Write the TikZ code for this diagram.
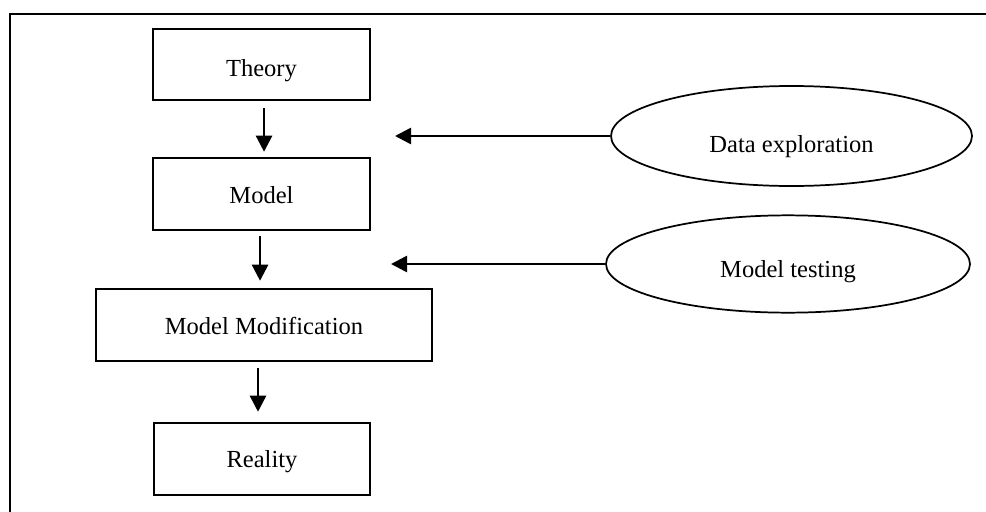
\documentclass[tikz,border=0pt]{standalone}
\usepackage{fontspec}
\setmainfont{Liberation Serif}
\usetikzlibrary{shapes.geometric,arrows.meta}

% lower a label inside its node without changing the node's size
\newcommand{\lowerby}[2]{\raisebox{-#1}[\height][\depth]{#2}}

\tikzset{
  stagebox/.style={draw, line width=1.9pt, rectangle, inner sep=0pt,
    font=\fontsize{18.4pt}{22pt}\selectfont},
  sourceoval/.style={draw, line width=1.3pt, ellipse, inner sep=0pt,
    font=\fontsize{18.4pt}{22pt}\selectfont},
  flowarrow/.style={line width=1.9pt, -{Triangle[length=12pt,width=12pt]}},
  frameline/.style={line width=1.6pt}
}

\begin{document}
\begin{tikzpicture}[x=0.75pt, y=-0.75pt]
  \useasboundingbox (0,0) rectangle (986,511);
  \clip (0,0) rectangle (986,511);

  % open frame: left and top edges
  \draw[frameline] (10,515) -- (10,14) -- (990,14);

  % stages of the process
  \node[stagebox, minimum width=162.75pt, minimum height=53.25pt] (theory) at (261.5,64.5) {\lowerby{4.5pt}{Theory}};
  \node[stagebox, minimum width=162.75pt, minimum height=54pt] (model) at (261.5,194) {\lowerby{1pt}{Model}};
  \node[stagebox, minimum width=252pt, minimum height=54pt] (modif) at (264,325) {\lowerby{0.5pt}{Model Modification}};
  \node[stagebox, minimum width=162pt, minimum height=54pt] (reality) at (262,459) {\lowerby{2.3pt}{Reality}};

  % inputs feeding the process
  \node[sourceoval, minimum width=270.75pt, minimum height=75pt] (explore) at (791.5,136) {\lowerby{8pt}{Data exploration}};
  \node[sourceoval, minimum width=273pt, minimum height=73pt] (testing) at (788,264) {\lowerby{5.6pt}{Model testing}};

  \coordinate (exploreend) at (395,136);
  \coordinate (testingend) at (391,264);

  % downward flow between stages
  \draw[flowarrow, shorten <=5.25pt, shorten >=3.75pt]
    ([xshift=1.9pt]theory.south) -- ([xshift=1.9pt]model.north);
  \draw[flowarrow, shorten <=3.75pt, shorten >=5.25pt]
    ([xshift=-1.1pt]model.south) -- ([xshift=-1.1pt]model.south |- modif.north);
  \draw[flowarrow, shorten <=4.5pt, shorten >=7.5pt]
    ([xshift=-4.5pt]modif.south) -- ([xshift=-4.5pt]modif.south |- reality.north);

  % side inputs
  \draw[flowarrow] (explore.west) -- (exploreend);
  \draw[flowarrow] (testing.west) -- (testingend);
\end{tikzpicture}
\end{document}
